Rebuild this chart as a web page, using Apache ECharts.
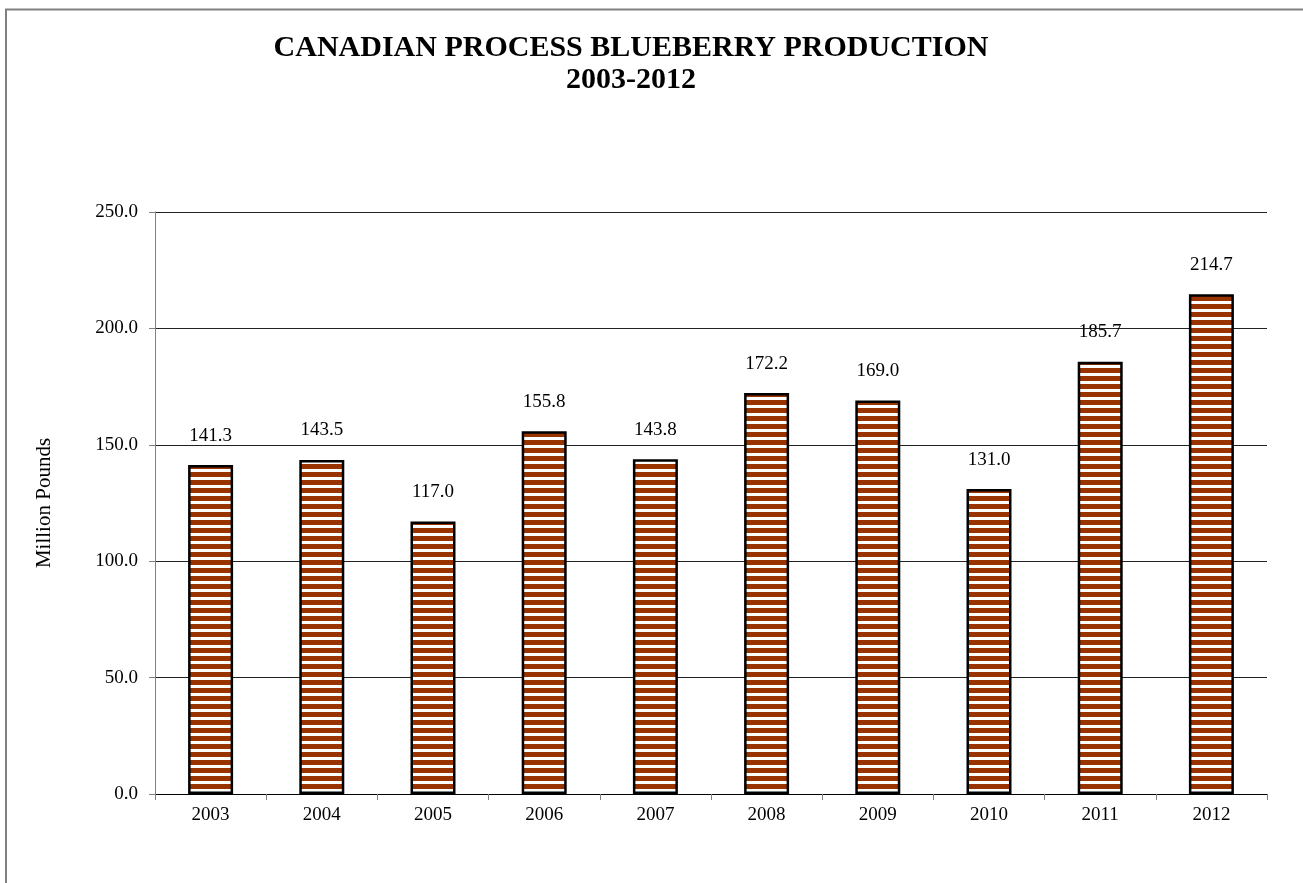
<!DOCTYPE html>
<html>
<head>
<meta charset="utf-8">
<title>Canadian Process Blueberry Production</title>
<script src="https://cdn.jsdelivr.net/npm/echarts@6/dist/echarts.min.js"></script>
<style type="text/css">
    html, body {
        margin: 0;
        padding: 0;
        background: #ffffff;
    }

    #chart {
        width: 1303px;
        height: 883px;
    }
</style>
</head>
<body>
<div id="chart"></div>

<script type="text/javascript">
    // chart data
    var years = ['2003', '2004', '2005', '2006', '2007', '2008', '2009', '2010', '2011', '2012'];
    var production = [141.3, 143.5, 117.0, 155.8, 143.8, 172.2, 169.0, 131.0, 185.7, 214.7];
    var titleLines = ['CANADIAN PROCESS BLUEBERRY PRODUCTION', '2003-2012'];

    // horizontal stripe fill like the excel pattern
    function stripes() {
        var c = document.createElement('canvas');
        c.width = 8;
        c.height = 8;
        var ctx = c.getContext('2d');
        ctx.fillStyle = '#ffffff';
        ctx.fillRect(0, 0, 8, 8);
        ctx.fillStyle = '#993300';
        ctx.fillRect(0, 0, 8, 5);
        return c;
    }

    var font = '"Liberation Serif", "Times New Roman", serif';
    var myChart = echarts.init(document.getElementById('chart'));

    option = {
        animation: false,
        backgroundColor: '#ffffff',
        graphic: [
            {
                type: 'rect',
                shape: {x: 6, y: 9.5, width: 1400, height: 1000},
                style: {fill: 'none', stroke: '#808080', lineWidth: 2},
                silent: true
            },
            {
                type: 'text',
                x: 631,
                y: 48,
                style: {
                    text: titleLines[0],
                    textAlign: 'center',
                    textVerticalAlign: 'middle',
                    fontFamily: font,
                    fontWeight: 'bold',
                    fontSize: 30,
                    fill: '#000000'
                }
            },
            {
                type: 'text',
                x: 631,
                y: 80,
                style: {
                    text: titleLines[1],
                    textAlign: 'center',
                    textVerticalAlign: 'middle',
                    fontFamily: font,
                    fontWeight: 'bold',
                    fontSize: 30,
                    fill: '#000000'
                }
            }
        ],
        grid: {
            left: 155,
            right: 36,
            top: 212,
            bottom: 89
        },
        xAxis: {
            type: 'category',
            data: years,
            axisLine: {lineStyle: {color: '#000000', width: 1}},
            axisTick: {show: true, length: 6, lineStyle: {color: '#808080'}},
            axisLabel: {
                color: '#000000',
                fontFamily: font,
                fontSize: 19,
                margin: 12
            },
            splitLine: {show: false}
        },
        yAxis: {
            type: 'value',
            min: 0,
            max: 250,
            interval: 50,
            name: 'Million Pounds',
            nameLocation: 'middle',
            nameRotate: 90,
            nameGap: 100,
            nameTextStyle: {
                color: '#000000',
                fontFamily: font,
                fontSize: 21
            },
            axisLine: {show: true, lineStyle: {color: '#808080', width: 1}},
            axisTick: {show: true, length: 6, lineStyle: {color: '#808080'}},
            axisLabel: {
                color: '#000000',
                fontFamily: font,
                fontSize: 19,
                margin: 17,
                formatter: function (v) {
                    return v.toFixed(1);
                }
            },
            splitLine: {show: true, lineStyle: {color: '#222222', width: 1}}
        },
        series: [
            {
                type: 'bar',
                data: production,
                barWidth: 45,
                itemStyle: {
                    color: {image: stripes(), repeat: 'repeat'},
                    borderColor: '#000000',
                    borderWidth: 2.5
                },
                label: {
                    show: true,
                    position: 'top',
                    distance: 20,
                    color: '#000000',
                    fontFamily: font,
                    fontSize: 19,
                    formatter: function (p) {
                        return p.value.toFixed(1);
                    }
                }
            }
        ]
    };

    myChart.setOption(option);
</script>
</body>
</html>
